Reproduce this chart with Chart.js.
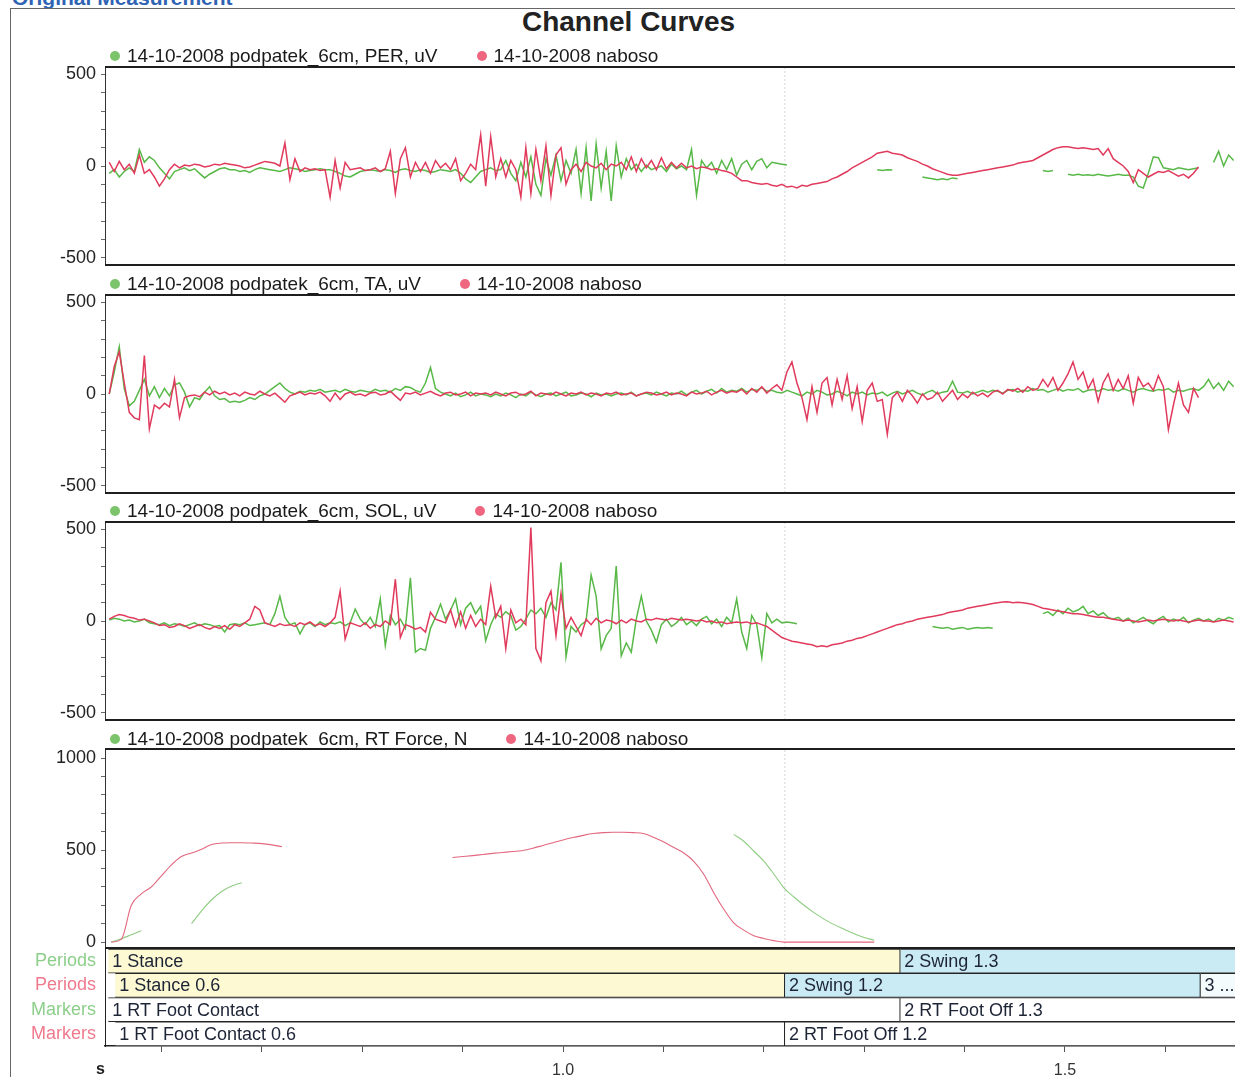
<!DOCTYPE html>
<html>
<head>
<meta charset="utf-8">
<title>Channel Curves</title>
<script src="https://cdn.jsdelivr.net/npm/chart.js@4/dist/chart.umd.min.js"></script>
<style>
  html, body { margin: 0; padding: 0; background: #fff; overflow: hidden; width: 1235px; height: 1077px; }
  body { position: relative; font-family: "Liberation Sans", Arial, sans-serif; }
  #heading { position: absolute; left: 12px; top: -14px; font: bold 21px "Liberation Sans", Arial, sans-serif; color: #2f63b4; white-space: nowrap; }
  #frame { position: absolute; left: 10px; top: 8px; width: 1260px; height: 1100px; border-left: 1px solid #666; border-top: 1px solid #666; }
  #title { position: absolute; left: 0; width: 1257px; top: 8px; text-align: center; font: bold 28px/28px "Liberation Sans", Arial, sans-serif; color: #222; }
  .legend { position: absolute; left: 110px; display: flex; align-items: center; height: 20px; font: 19px/20px "Liberation Sans", Arial, sans-serif; color: #1a1a1a; white-space: nowrap; }
  .legend .item { display: flex; align-items: center; margin-right: 39px; }
  .legend .dot { width: 10px; height: 10px; border-radius: 50%; margin-right: 7px; }
  canvas { position: absolute; left: 0; }
  #unit { position: absolute; left: 96px; top: 1061px; font: bold 16px/16px "Liberation Sans", Arial, sans-serif; color: #222; }
</style>
</head>
<body>
<div id="heading">Original Measurement</div>
<div id="frame"></div>
<div id="title">Channel Curves</div>

<canvas id="chPER" width="1245" height="222" style="top:55px"></canvas>
<canvas id="chTA" width="1245" height="222" style="top:283px"></canvas>
<canvas id="chSOL" width="1245" height="222" style="top:510px"></canvas>
<canvas id="chForce" width="1245" height="223" style="top:737px"></canvas>
<canvas id="chPeriods" width="1245" height="145" style="top:940px"></canvas>

<div class="legend" id="lgPER" style="top:46px"></div>
<div class="legend" id="lgTA" style="top:274px"></div>
<div class="legend" id="lgSOL" style="top:501px"></div>
<div class="legend" id="lgForce" style="top:729px"></div>
<div id="unit">s</div>

<script>
// ---- recordings ----
const SESSION_POD = '14-10-2008 podpatek_6cm';
const SESSION_NAB = '14-10-2008 naboso';
const CHANNELS = ['PER', 'TA', 'SOL', 'RT Force'];
const UNITS = ['uV', 'uV', 'uV', 'N'];

// EMG sampling (s)
const EMG_START_S = 0.548;
const EMG_STEP_S = 0.005;
// force sampling (s)
const FORCE_START_S = 0.55;
const FORCE_STEP_S = 0.01;

// time axis (s)
const AXIS_MIN_S = 0.5438;
const AXIS_MAX_S = 1.6793;
const TIME_TICKS = [0.6, 0.7, 0.8, 0.9, 1.0, 1.1, 1.2, 1.3, 1.4, 1.5, 1.6];
const TIME_LABELS = [1.0, 1.5];

// value axes
const EMG_RANGE = [-540, 540];
const EMG_TICKS = [-500, -400, -300, -200, -100, 0, 100, 200, 300, 400, 500];
const EMG_LABELS = [-500, 0, 500];
const FORCE_RANGE = [-32, 1049];
const FORCE_TICKS = [0, 100, 200, 300, 400, 500, 600, 700, 800, 900, 1000];
const FORCE_LABELS = [0, 500, 1000];

// foot-off event of the barefoot trial (s)
const FOOT_OFF_NAB_S = 1.221;

// PER, uV
const PER_NAB = [
  20,-30,25,-20,10,-40,60,-40,-20,-60,-110,-70,-20,10,-10,5,0,10,5,-5,0,10,5,15,10,
  5,0,-10,-5,5,15,25,20,15,0,125,-75,40,-30,-10,-20,-15,-25,-20,-170,30,-120,20,-20,-15,
  -10,-25,-20,-10,-30,-15,80,-150,40,100,-60,20,-30,20,-40,30,-10,15,-20,40,-80,-40,10,-20,170,
  -110,160,-60,40,-60,30,-20,-170,100,-150,90,-80,110,-160,60,100,-100,-20,10,-30,20,0,-10,15,-20,
  10,0,20,-20,50,-30,40,-10,30,-20,45,-15,20,-10,15,-10,0,-15,-5,-10,-20,-15,-25,-30,-40,
  -60,-80,-80,-90,-95,-100,-95,-105,-110,-100,-115,-110,-120,-105,-110,-100,-95,-90,-85,-70,-60,-45,-30,-10,5,
  20,35,50,70,75,80,70,65,60,45,35,25,10,0,-15,-25,-35,-45,-50,-50,-45,-40,-35,-30,-25,
  -20,-15,-10,-5,0,5,15,20,25,30,45,60,75,90,100,105,105,100,95,100,95,90,95,60,95,
  40,20,0,-30,-90,-20,-40,-60,-45,-30,-35,-25,-40,-55,-45,-65,-40,-5,null,null,null,null,null,null,null
];
const PER_POD = [
  -40,-20,-60,-30,-10,-30,90,20,50,30,-10,-40,-70,-30,-20,-10,-25,-15,-40,-65,-45,-30,-15,-10,-20,
  -20,-30,-25,-35,-20,-10,-15,-20,-25,-30,-20,-10,-15,-20,-30,-25,-20,-15,-20,-20,-30,-40,-55,-60,-45,
  -30,-25,-20,-25,-30,-20,-25,-35,-20,-15,-25,-30,-20,-25,-35,-30,-20,-25,-30,-20,-40,-70,-90,-60,-30,
  -20,-10,-25,-20,30,-40,-80,20,-60,50,-100,-160,40,-50,60,-80,30,-40,90,-150,100,-190,120,-120,80,
  -190,110,-60,40,-20,10,-30,5,-20,-10,0,-30,10,-15,0,-20,90,-160,30,-10,20,-40,30,-20,40,
  -50,10,30,-20,25,40,-10,20,15,10,5,null,null,null,null,null,null,null,null,null,null,null,null,null,null,
  null,null,null,-20,-25,-20,-22,null,null,null,null,null,-60,-65,-70,-75,-70,-75,-65,-70,null,null,null,null,null,
  null,null,null,null,null,null,null,null,null,null,null,-25,-30,-25,null,null,-45,-50,-45,-50,-48,-52,-45,-50,-55,
  -50,-45,-50,-50,-60,-110,-120,-40,50,45,-10,-15,-20,-10,-15,-20,-15,-10,null,null,20,80,0,60,30
];

// TA, uV
const TA_NAB = [
  0,150,230,60,-100,-130,-140,210,-190,-60,-80,-50,-70,80,-130,-20,-10,-5,-15,10,-5,15,0,10,-5,
  5,-10,10,0,-5,15,0,-10,5,-20,-45,-10,0,10,-5,5,0,10,-10,-40,5,-30,0,10,-5,
  0,-10,5,10,-5,0,15,-10,-35,5,0,10,-5,5,15,0,-10,5,10,-5,0,10,-10,5,0,
  5,-5,10,0,-10,5,10,-5,0,15,-10,5,0,-5,10,0,-10,5,0,10,-5,5,0,-10,5,
  0,10,-5,0,5,-10,0,10,5,-5,0,10,-5,5,0,-10,10,0,5,15,-5,10,20,5,15,
  10,25,0,30,10,40,5,30,50,20,120,175,60,-20,-140,40,-100,60,90,-60,80,-30,100,-80,40,
  -150,20,60,-40,-30,-220,-20,10,-40,20,-10,-50,0,-30,-20,10,-40,-10,20,-30,0,-20,10,-10,5,
  -15,10,20,0,25,15,30,10,40,20,30,80,40,90,20,60,110,175,80,120,30,80,-40,60,110,
  20,80,30,100,-50,90,40,60,20,100,40,-195,-60,60,-60,-100,30,-20,null,null,null,null,null,null,null
];
const TA_POD = [
  0,120,258,30,-65,-40,20,80,-10,40,-20,30,-10,50,60,10,-70,-20,-30,10,40,-10,-30,-25,-45,
  -40,-45,-35,-20,-30,-10,0,20,40,60,30,10,0,15,10,20,15,25,10,15,20,10,25,15,10,
  20,15,10,25,15,20,10,30,20,40,35,20,10,60,145,30,10,0,-10,5,-15,-5,10,-10,0,
  -5,-15,0,-10,5,-5,-20,0,-10,10,-5,-15,0,5,-10,0,10,-10,-5,5,0,-15,5,-5,0,
  -10,0,5,-5,10,-10,0,5,-5,10,0,-10,5,0,15,-5,10,20,0,15,25,5,30,10,20,
  15,30,10,25,20,35,15,20,10,5,20,10,0,-10,10,0,20,10,-5,0,15,5,-10,10,0,
  10,-5,5,0,10,-10,5,15,0,10,20,5,-5,10,20,0,10,15,70,10,5,15,0,10,20,
  10,20,15,5,20,25,10,20,15,30,20,25,10,20,30,15,25,20,30,10,20,25,15,30,20,
  25,15,30,20,10,25,30,20,15,25,20,30,10,20,15,25,30,20,40,80,30,60,20,70,40
];

// SOL, uV
const SOL_NAB = [
  10,25,35,30,20,15,5,10,0,-10,-25,-20,-35,-30,-15,-25,-40,-30,-20,-35,-45,-30,-40,-25,-45,
  -20,-30,-10,10,80,60,-10,-20,-30,-15,-25,-20,-30,-10,-20,-5,-25,-15,-30,-10,20,163,-98,-10,-20,
  -30,-10,-40,-20,-30,0,-20,228,-90,-20,-30,-45,-35,-60,48,10,0,-10,60,-30,50,-40,30,-30,10,
  -20,190,20,80,-150,60,-10,10,-20,510,-150,-217,100,163,-80,150,-40,20,-30,-80,10,-20,15,-10,5,
  0,-15,5,-10,10,0,-5,10,5,15,10,5,15,10,5,10,5,0,5,-5,0,-10,-5,-15,-10,
  -5,-10,-5,-15,-10,-20,-30,-50,-70,-90,-100,-110,-115,-120,-125,-130,-140,-135,-140,-130,-125,-120,-110,-105,-95,
  -90,-80,-70,-60,-50,-40,-30,-20,-15,-5,0,10,15,20,25,30,35,45,50,55,60,70,75,80,85,
  90,95,100,103,105,100,102,100,95,90,80,70,65,60,55,50,45,40,40,35,30,25,20,20,15,
  10,5,0,5,0,-5,0,5,0,5,10,5,0,5,0,-5,0,5,0,0,-5,0,5,0,-5
];
const SOL_POD = [
  5,15,10,0,5,-5,0,10,-10,-15,-20,-10,-25,-15,-20,-30,-20,-10,-25,-15,-20,-30,-25,-60,-20,
  -15,-20,-10,-25,-20,-15,-10,-20,40,135,20,-20,-10,-70,-20,-10,-30,-5,-20,-10,-15,-5,-25,-10,65,
  10,-20,20,-30,120,-134,30,-20,10,-40,236,-170,-150,-160,-40,20,92,10,60,120,-20,70,100,40,80,
  -107,-20,40,20,50,30,-50,-30,10,60,40,70,20,100,60,320,-196,-30,-60,-20,0,250,136,-152,-80,
  -40,300,-190,-120,-170,10,136,0,-50,-116,-20,10,-30,-10,20,-20,0,-25,10,25,-15,10,-30,20,-10,
  120,-60,-150,30,-20,-200,40,-10,10,-10,-5,-10,-15,null,null,null,null,null,null,null,null,null,null,null,null,
  null,null,null,null,null,null,null,null,null,null,null,null,null,null,-30,-35,-40,-35,-45,-40,-35,-45,-40,-35,-40,
  -35,-40,null,null,null,null,null,null,null,null,null,40,50,30,60,40,70,50,60,80,40,55,30,45,20,
  10,20,0,15,-10,5,20,0,-15,10,25,-5,10,0,20,-10,5,15,0,10,-5,15,5,20,10
];

// RT Force, N
const FORCE_NAB = [
  0,15,200,262,300,360,420,465,484,505,530,538,540,540,538,535,528,518,
  null,null,null,null,null,null,null,null,null,null,null,null,null,null,null,null,
  460,465,470,476,482,487,492,498,510,525,540,555,568,580,590,595,597,597,595,590,570,545,515,485,440,370,270,180,105,65,35,20,8,0,
  0,0,0,0,0,0,0,0,0,
  null,null,null,null,null,null,null,null,null,null,null,null,null,null,null,null,null,null,
  null,null,null,null,null,null,null,null,null,null,null,null,null,null,null,null,null,null
];
const FORCE_POD = [
  0,18,40,62,
  null,null,null,null,
  100,170,230,275,305,322,
  null,null,null,null,null,null,null,null,null,null,null,null,null,null,null,null,
  null,null,null,null,null,null,null,null,null,null,null,null,null,null,null,null,
  null,null,null,null,null,null,null,null,null,null,null,null,null,null,null,null,
  585,548,495,440,370,295,245,200,160,125,95,70,45,25,10,
  null,null,null,null,null,null,null,null,null,null,null,null,null,null,null,null,null,null,
  null,null,null,null,null,null,null,null,null,null,null,null,null,null,null,null,null,null
];

// gait periods and event markers, one row each
const ROW_LABELS = ['Periods', 'Periods', 'Markers', 'Markers'];
const SEG_ROW   = [0, 0, 1, 1, 1, 2, 2, 3, 3];
const SEG_START = [0.547, 1.336, 0.554, 1.221, 1.635, 0.547, 1.336, 0.554, 1.221];
const SEG_END   = [1.336, 1.70, 1.221, 1.635, 1.70, 1.336, 1.70, 1.221, 1.70];
const SEG_NAME  = ['1 Stance', '2 Swing', '1 Stance', '2 Swing', '3 ...', '1 RT Foot Contact', '2 RT Foot Off', '1 RT Foot Contact', '2 RT Foot Off'];
const SEG_TIMED = [false, true, true, true, false, false, true, true, true];
const SEG_KIND  = ['stance', 'swing', 'stance', 'swing', 'next', 'event', 'event', 'event', 'event'];

// ---- styling ----
const FONT = '"Liberation Sans", Arial, sans-serif';
const GREEN = '#58b848';
const RED = '#e03a5c';
const GREEN_SOFT = '#8fcc82';
const RED_SOFT = '#e2677f';
const DOT_GREEN = '#7cc46c';
const DOT_RED = '#ef6680';
const ROW_COLORS = ['#8ccf8a', '#ef7a8e', '#8ccf8a', '#ef7a8e'];
const KIND_FILL = { stance: '#fcf9d3', swing: '#cbebf4', next: '#f4fbfd', event: '#ffffff' };

Chart.defaults.font.family = FONT;

function toSeries(vals, t0, dt) {
  return vals.map((v, i) => ({ x: t0 + i * dt, y: v }));
}

// keep the plot area exactly where the layout padding puts it
function noScalePadding(s) {
  s.paddingTop = 0; s.paddingBottom = 0; s.paddingLeft = 0; s.paddingRight = 0;
}

// plot-area top/bottom rules
const frameLines = {
  id: 'frameLines',
  afterDraw(chart) {
    const { ctx, chartArea: a } = chart;
    ctx.save();
    ctx.strokeStyle = '#1e1e1e';
    ctx.lineWidth = 2;
    ctx.beginPath();
    ctx.moveTo(a.left, a.top); ctx.lineTo(a.right, a.top);
    ctx.moveTo(a.left, a.bottom); ctx.lineTo(a.right, a.bottom);
    ctx.stroke();
    ctx.restore();
  }
};

function buildLegend(id, k) {
  const el = document.getElementById(id);
  const items = [
    [DOT_GREEN, SESSION_POD + ', ' + CHANNELS[k] + ', ' + UNITS[k]],
    [DOT_RED, SESSION_NAB]
  ];
  items.forEach(([c, text]) => {
    const it = document.createElement('span');
    it.className = 'item';
    const d = document.createElement('span');
    d.className = 'dot';
    d.style.background = c;
    const t = document.createElement('span');
    t.textContent = text;
    it.appendChild(d); it.appendChild(t);
    el.appendChild(it);
  });
}

function panel(id, pod, nab, range, ticks, labels, t0, dt, smooth, colors) {
  const lineOpts = {
    pointRadius: 0,
    borderWidth: smooth ? 1.1 : 1.5,
    fill: false,
    spanGaps: false,
    tension: smooth ? 0.35 : 0,
    cubicInterpolationMode: smooth ? 'monotone' : 'default'
  };
  new Chart(document.getElementById(id), {
    type: 'line',
    data: {
      datasets: [
        Object.assign({ label: SESSION_NAB, data: toSeries(nab, t0, dt), borderColor: colors[1], order: 1 }, lineOpts),
        Object.assign({ label: SESSION_POD, data: toSeries(pod, t0, dt), borderColor: colors[0], order: 2 }, lineOpts),
        {
          label: 'foot off', data: [{ x: FOOT_OFF_NAB_S, y: range[0] }, { x: FOOT_OFF_NAB_S, y: range[1] }],
          borderColor: '#d6d6d6', borderWidth: 1, borderDash: [2, 2], pointRadius: 0, order: 3
        }
      ]
    },
    options: {
      responsive: false,
      animation: false,
      events: [],
      layout: { padding: { top: 12, bottom: 12, left: 0, right: 0 } },
      plugins: { legend: { display: false }, tooltip: { enabled: false } },
      scales: {
        x: { type: 'linear', min: AXIS_MIN_S, max: AXIS_MAX_S, display: false, afterFit: noScalePadding },
        y: {
          type: 'linear', min: range[0], max: range[1],
          afterFit: s => { s.width = 105; noScalePadding(s); },
          afterBuildTicks: s => { s.ticks = ticks.map(v => ({ value: v })); },
          ticks: {
            autoSkip: false,
            callback: v => labels.includes(v) ? String(v) : '',
            font: { size: 18 }, color: '#222', padding: 5
          },
          grid: { drawOnChartArea: false, tickLength: 4, color: '#6a6a6a' },
          border: { color: '#333', width: 1 }
        }
      }
    },
    plugins: [frameLines]
  });
}

buildLegend('lgPER', 0);
buildLegend('lgTA', 1);
buildLegend('lgSOL', 2);
buildLegend('lgForce', 3);

panel('chPER', PER_POD, PER_NAB, EMG_RANGE, EMG_TICKS, EMG_LABELS, EMG_START_S, EMG_STEP_S, false, [GREEN, RED]);
panel('chTA', TA_POD, TA_NAB, EMG_RANGE, EMG_TICKS, EMG_LABELS, EMG_START_S, EMG_STEP_S, false, [GREEN, RED]);
panel('chSOL', SOL_POD, SOL_NAB, EMG_RANGE, EMG_TICKS, EMG_LABELS, EMG_START_S, EMG_STEP_S, false, [GREEN, RED]);
panel('chForce', FORCE_POD, FORCE_NAB, FORCE_RANGE, FORCE_TICKS, FORCE_LABELS, FORCE_START_S, FORCE_STEP_S, true, [GREEN_SOFT, RED_SOFT]);

// captions written inside each period / marker bar
const barText = {
  id: 'barText',
  afterDatasetsDraw(chart) {
    const { ctx, chartArea: a } = chart;
    ctx.save();
    ctx.beginPath();
    ctx.rect(a.left, a.top, a.right - a.left, a.bottom - a.top);
    ctx.clip();
    ctx.font = '18px ' + FONT;
    ctx.fillStyle = '#1d2436';
    ctx.textBaseline = 'middle';
    ctx.textAlign = 'left';
    chart.data.datasets.forEach((ds, k) => {
      const el = chart.getDatasetMeta(k).data[SEG_ROW[k]];
      if (!el) return;
      const left = Math.min(el.x, el.base);
      const text = SEG_TIMED[k] ? SEG_NAME[k] + ' ' + SEG_START[k].toFixed(1) : SEG_NAME[k];
      ctx.fillText(text, left + 4, el.y + 1);
    });
    ctx.restore();
  }
};

new Chart(document.getElementById('chPeriods'), {
  type: 'bar',
  data: {
    labels: ROW_LABELS,
    datasets: SEG_ROW.map((row, k) => ({
      label: SEG_NAME[k],
      data: ROW_LABELS.map((_, r) => r === row ? [SEG_START[k], SEG_END[k]] : null),
      backgroundColor: KIND_FILL[SEG_KIND[k]],
      borderColor: '#262626',
      borderWidth: 1.2,
      borderSkipped: 'start',
      barPercentage: 1,
      categoryPercentage: 1,
      grouped: false
    }))
  },
  options: {
    indexAxis: 'y',
    responsive: false,
    animation: false,
    events: [],
    layout: { padding: { top: 9, bottom: 0, left: 0, right: 0 } },
    plugins: { legend: { display: false }, tooltip: { enabled: false } },
    scales: {
      x: {
        type: 'linear', min: AXIS_MIN_S, max: AXIS_MAX_S,
        afterFit: s => { s.height = 39; noScalePadding(s); },
        afterBuildTicks: s => { s.ticks = TIME_TICKS.map(v => ({ value: v })); },
        ticks: {
          autoSkip: false, maxRotation: 0,
          callback: v => TIME_LABELS.some(l => Math.abs(l - v) < 1e-9) ? v.toFixed(1) : '',
          font: { size: 16 }, color: '#333', padding: 9
        },
        grid: { drawOnChartArea: false, tickLength: 6, color: '#555' },
        border: { color: '#222', width: 1.5 }
      },
      y: {
        type: 'category',
        afterFit: s => { s.width = 105; noScalePadding(s); },
        ticks: { autoSkip: false, color: ctx => ROW_COLORS[ctx.index], font: { size: 18 }, padding: 1 },
        grid: { display: false },
        border: { color: '#222', width: 1 }
      }
    }
  },
  plugins: [barText]
});
</script>
</body>
</html>
